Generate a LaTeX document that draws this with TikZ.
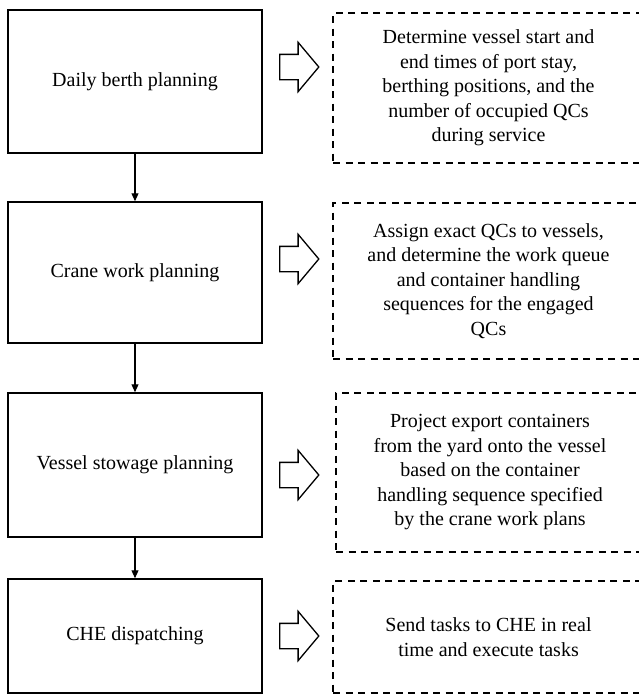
\documentclass[tikz,border=0pt]{standalone}
\usepackage{fontspec}
\setmainfont{Liberation Serif}
\usepackage{tikz}
\usetikzlibrary{arrows.meta,positioning,shapes.arrows}

\begin{document}
\begin{tikzpicture}[
x=1pt,y=-1pt,
font=\fontsize{20}{24.5}\selectfont,
plan/.style={draw,line width=1.5pt,minimum width=254pt,inner sep=0pt,align=center},
result/.style={draw,dashed,dash pattern=on 7pt off 5.5pt,line width=1.5pt,inner sep=0pt,align=center},
feed/.style={draw,line width=1.3pt,single arrow,single arrow head extend=12pt,
  single arrow tip angle=100,minimum height=39pt,inner xsep=0pt,inner ysep=12pt},
flow/.style={-{Triangle[length=8pt,width=7pt]},line width=1.1pt}]
    % Frame
    \useasboundingbox (0,0) rectangle (639,696);

    % Planning levels
    \node[plan,minimum height=143pt] (berth) at (135,81.5) {Daily berth planning};
    \node[plan,minimum height=141pt] (crane) at (135,272.5) {Crane work planning};
    \node[plan,minimum height=144pt] (stowage) at (135,465) {Vessel stowage planning};
    \node[plan,minimum height=114pt] (dispatch) at (135,636) {CHE dispatching};

    % Decisions
    \node[result,minimum width=311pt,minimum height=150pt] (berthout) at (488.5,88)
        {Determine vessel start and\\end times of port stay,\\berthing positions, and the\\number of occupied QCs\\during service};
    \node[result,minimum width=311pt,minimum height=156pt] (craneout) at (488.5,281)
        {Assign exact QCs to vessels,\\and determine the work queue\\and container handling\\sequences for the engaged\\QCs};
    \node[result,minimum width=308pt,minimum height=159pt] (stowageout) at (490,472.5)
        {Project export containers\\from the yard onto the vessel\\based on the container\\handling sequence specified\\by the crane work plans};
    \node[result,minimum width=311pt,minimum height=112pt] (dispatchout) at (488.5,637)
        {Send tasks to CHE in real\\time and execute tasks};

    % Block arrows
    \node[feed] (f1) at (294,67) {};
    \node[feed] (f2) at (294,259) {};
    \node[feed] (f3) at (294,475) {};
    \node[feed] (f4) at (294,636) {};

    % Sequence
    \draw[flow] (berth) -- (crane);
    \draw[flow] (crane) -- (stowage);
    \draw[flow] (stowage) -- (dispatch);

\end{tikzpicture}
\end{document}
